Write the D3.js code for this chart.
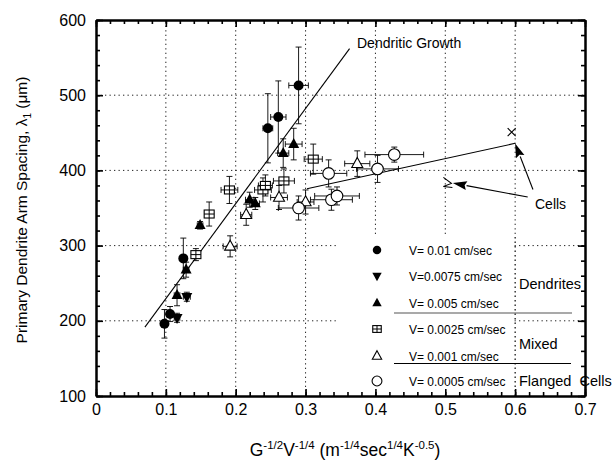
<!DOCTYPE html>
<html><head><meta charset="utf-8">
<script src="https://cdn.jsdelivr.net/npm/d3@7"></script>
<style>
body{margin:0;background:#fff;}
svg{display:block;font-family:"Liberation Sans",Arial,sans-serif;}
</style></head>
<body>
<svg id="c" width="613" height="464"></svg>
<script>
// ---- data ----
const X_TICKS = [0,0.1,0.2,0.3,0.4,0.5,0.6,0.7];
const Y_TICKS = [100,200,300,400,500,600];
const X_GRID = [0.1,0.2,0.3,0.4,0.5,0.6];
const Y_GRID = [200,300,400,500];

const seriesNames = ["V= 0.01 cm/sec","V=0.0075 cm/sec","V= 0.005 cm/sec","V= 0.0025 cm/sec","V= 0.001 cm/sec","V= 0.0005 cm/sec"];
const seriesMarks = ["circleFilled","triDownFilled","triUpFilled","squareCross","triUpOpen","circleOpen"];

const v010_x  = [0.098,0.106,0.125,0.246,0.261,0.290];
const v010_y  = [196,209,283,456,471,513];
const v010_ye = [19,10,27,46,48,51];
const v010_xe = [0.004,0.003,0.004,0.007,0.011,0.014];

const v0075_x  = [0.116,0.130];
const v0075_y  = [204,232];
const v0075_ye = [6,6];
const v0075_xe = [0.004,0.005];

const v005_x  = [0.116,0.129,0.149,0.220,0.228,0.268,0.283];
const v005_y  = [234,268,327,361,356,423,435];
const v005_ye = [14,10,5,10,8,19,21];
const v005_xe = [0.004,0.004,0.004,0.006,0.006,0.008,0.012];

const v0025_x  = [0.143,0.162,0.191,0.239,0.2425,0.269,0.311];
const v0025_y  = [288,342,374,374,380,386,415];
const v0025_ye = [8,16,18,16,14,16,20];
const v0025_xe = [0.004,0.006,0.012,0.012,0.01,0.015,0.013];

const v001_x  = [0.192,0.215,0.262,0.300,0.374];
const v001_y  = [299,341,364,358,409];
const v001_ye = [14,14,16,16,17];
const v001_xe = [0.01,0.008,0.012,0.012,0.018];

const v0005_x  = [0.290,0.333,0.337,0.345,0.403,0.427];
const v0005_y  = [350,396,361,366,402,421];
const v0005_ye = [16,18,14,12,18,10];
const v0005_xe = [0.029,0.026,0.03,0.032,0.03,0.042];

const dendriticLine_x = [0.070,0.363];
const dendriticLine_y = [191.5,562];
const cellsLine_x = [0.302,0.600];
const cellsLine_y = [375.5,436];
const crossMark = [0.595,451];
const zigMark = [0.503,384];
const arrow1 = [[0.618,364.6],[0.5108,383.2]];
const arrow2 = [[0.6255,374.6],[0.600,435.8]];

const groupLabels = ["Dendrites","Mixed","Flanged  Cells"];

// ---- scales ----
const svg = d3.select("#c");
const x = d3.scaleLinear().domain([0,0.7]).range([96,585]);
const y = d3.scaleLinear().domain([100,600]).range([396,20]);

// grid
const grid = svg.append("g").attr("stroke","#222").attr("stroke-width",1).attr("stroke-dasharray","1.3,3.2");
X_GRID.forEach(v=>grid.append("line").attr("x1",x(v)).attr("x2",x(v)).attr("y1",y(100)).attr("y2",y(600)));
Y_GRID.forEach(v=>grid.append("line").attr("x1",x(0)).attr("x2",x(0.7)).attr("y1",y(v)).attr("y2",y(v)));

// legend background box (covers grid)
svg.append("rect").attr("x",338).attr("y",237).attr("width",x(0.6)-338-1).attr("height",y(100)-237-2).attr("fill","#fff");
svg.append("line").attr("x1",x(0.6)).attr("x2",x(0.6)).attr("y1",237).attr("y2",y(100))
  .attr("stroke","#222").attr("stroke-dasharray","1.3,3.2");

// axes
const minorX = d3.range(0,0.7001,0.02).map(v=>+v.toFixed(2));
const minorY = d3.range(100,601,20);
function axisGroup(axis, tx, ty){
  const g = svg.append("g").attr("transform",`translate(${tx},${ty})`).call(axis);
  g.select(".domain").attr("stroke","#000").attr("stroke-width",2);
  g.selectAll(".tick line").attr("stroke","#000").attr("stroke-width",1.6);
  g.selectAll("text").attr("fill","#000").attr("font-size",16);
  return g;
}
axisGroup(d3.axisBottom(x).tickValues(minorX).tickSize(-4).tickSizeOuter(0).tickFormat(""),0,y(100));
axisGroup(d3.axisBottom(x).tickValues(X_TICKS).tickSize(-7).tickSizeOuter(0).tickPadding(8).tickFormat(d=>d===0?"0":d3.format(".1f")(d)),0,y(100));
axisGroup(d3.axisTop(x).tickValues(minorX).tickSize(-4).tickSizeOuter(0).tickFormat(""),0,y(600));
axisGroup(d3.axisTop(x).tickValues(X_TICKS).tickSize(-7).tickSizeOuter(0).tickFormat(""),0,y(600));
axisGroup(d3.axisLeft(y).tickValues(minorY).tickSize(-4).tickSizeOuter(0).tickFormat(""),x(0),0);
axisGroup(d3.axisLeft(y).tickValues(Y_TICKS).tickSize(-7).tickSizeOuter(0).tickPadding(10).tickFormat(d3.format("d")),x(0),0);
axisGroup(d3.axisRight(y).tickValues(minorY).tickSize(-4).tickSizeOuter(0).tickFormat(""),x(0.7),0);
axisGroup(d3.axisRight(y).tickValues(Y_TICKS).tickSize(-7).tickSizeOuter(0).tickFormat(""),x(0.7),0);

// axis titles
svg.append("text").attr("transform",`translate(27,${(y(100)+y(600))/2+2}) rotate(-90)`)
  .attr("text-anchor","middle").attr("font-size",15.5)
  .html('Primary Dendrite Arm Spacing, λ<tspan font-size="10" dy="4">1</tspan><tspan dy="-4">  (μm)</tspan>');
const xt = svg.append("text").attr("x",345).attr("y",456).attr("text-anchor","middle").attr("font-size",17.5);
xt.html('G<tspan font-size="11.5" dy="-7">-1/2</tspan><tspan dy="7">V</tspan><tspan font-size="11.5" dy="-7">-1/4</tspan><tspan dy="7"> (m</tspan><tspan font-size="11.5" dy="-7">-1/4</tspan><tspan dy="7">sec</tspan><tspan font-size="11.5" dy="-7">1/4</tspan><tspan dy="7">K</tspan><tspan font-size="11.5" dy="-7">-0.5</tspan><tspan dy="7">)</tspan>');

// fit lines
const lineGen = d3.line().x(d=>x(d[0])).y(d=>y(d[1]));
svg.append("path").datum(d3.zip(dendriticLine_x,dendriticLine_y)).attr("d",lineGen).attr("stroke","#000").attr("stroke-width",1.1).attr("fill","none");
svg.append("path").datum(d3.zip(cellsLine_x,cellsLine_y)).attr("d",lineGen).attr("stroke","#000").attr("stroke-width",1.1).attr("fill","none");

// marker shapes
function drawMarker(g, type, cx, cy, s){
  const k = s/10;
  if(type==="circleFilled"){ g.append("circle").attr("cx",cx).attr("cy",cy).attr("r",5*k).attr("fill","#000"); }
  else if(type==="circleOpen"){ g.append("circle").attr("cx",cx).attr("cy",cy).attr("r",5.8*k).attr("fill","#fff").attr("stroke","#000").attr("stroke-width",1.1); }
  else if(type==="triUpFilled"||type==="triUpOpen"){
    const w=11*k,h=10*k;
    const p = `M${cx},${cy-h*0.62}L${cx+w/2},${cy+h*0.38}L${cx-w/2},${cy+h*0.38}Z`;
    if(type==="triUpFilled") g.append("path").attr("d",p).attr("fill","#000");
    else g.append("path").attr("d",p).attr("fill","#fff").attr("stroke","#000").attr("stroke-width",1.1);
  }
  else if(type==="triDownFilled"){
    const w=11*k,h=10*k;
    g.append("path").attr("d",`M${cx},${cy+h*0.62}L${cx+w/2},${cy-h*0.38}L${cx-w/2},${cy-h*0.38}Z`).attr("fill","#000");
  }
  else if(type==="squareCross"){
    const w=10*k,h=8*k;
    g.append("rect").attr("x",cx-w/2).attr("y",cy-h/2).attr("width",w).attr("height",h).attr("fill","#fff").attr("stroke","#000").attr("stroke-width",1.1);
    g.append("line").attr("x1",cx-w/2).attr("x2",cx+w/2).attr("y1",cy).attr("y2",cy).attr("stroke","#000").attr("stroke-width",1);
    g.append("line").attr("x1",cx).attr("x2",cx).attr("y1",cy-h/2).attr("y2",cy+h/2).attr("stroke","#000").attr("stroke-width",1);
  }
}

const allSeries = [
  [v010_x,v010_y,v010_ye,v010_xe],
  [v0075_x,v0075_y,v0075_ye,v0075_xe],
  [v005_x,v005_y,v005_ye,v005_xe],
  [v0025_x,v0025_y,v0025_ye,v0025_xe],
  [v001_x,v001_y,v001_ye,v001_xe],
  [v0005_x,v0005_y,v0005_ye,v0005_xe]
];

// error bars
const eb = svg.append("g").attr("stroke","#000").attr("stroke-width",0.9);
allSeries.forEach(([xs,ys,yes,xes])=>{
  xs.forEach((xv,i)=>{
    const cx=x(xv), cy=y(ys[i]);
    const y1=y(ys[i]+yes[i]), y2=y(ys[i]-yes[i]);
    eb.append("line").attr("x1",cx).attr("x2",cx).attr("y1",y1).attr("y2",y2);
    eb.append("line").attr("x1",cx-3).attr("x2",cx+3).attr("y1",y1).attr("y2",y1);
    eb.append("line").attr("x1",cx-3).attr("x2",cx+3).attr("y1",y2).attr("y2",y2);
    const x1=x(xv-xes[i]), x2=x(xv+xes[i]);
    eb.append("line").attr("x1",x1).attr("x2",x2).attr("y1",cy).attr("y2",cy);
    eb.append("line").attr("x1",x1).attr("x2",x1).attr("y1",cy-3).attr("y2",cy+3);
    eb.append("line").attr("x1",x2).attr("x2",x2).attr("y1",cy-3).attr("y2",cy+3);
  });
});
// markers
const mk = svg.append("g");
allSeries.forEach(([xs,ys],si)=>{
  xs.forEach((xv,i)=>drawMarker(mk,seriesMarks[si],x(xv),y(ys[i]),10));
});

// cell markers
const cm = svg.append("g").attr("stroke","#000").attr("stroke-width",1.1).attr("fill","none");
{
  const cx=x(crossMark[0]), cy=y(crossMark[1]);
  cm.append("path").attr("d",`M${cx-4},${cy-4}L${cx+4},${cy+4}M${cx+4},${cy-4}L${cx-4},${cy+4}`);
  const zx=x(zigMark[0]), zy=y(zigMark[1]);
  cm.append("path").attr("d",`M${zx-4},${zy-5}L${zx+4},${zy+1}L${zx-4},${zy+4}L${zx+5},${zy+5}`);
}
// arrows
function arrow(a){
  const x1=x(a[0][0]),y1=y(a[0][1]),x2=x(a[1][0]),y2=y(a[1][1]);
  const ang=Math.atan2(y2-y1,x2-x1), L=14, W=4.5;
  const bx=x2-L*Math.cos(ang), by=y2-L*Math.sin(ang);
  svg.append("line").attr("x1",x1).attr("y1",y1).attr("x2",bx).attr("y2",by).attr("stroke","#000").attr("stroke-width",1.1);
  const px=-Math.sin(ang)*W, py=Math.cos(ang)*W;
  svg.append("path").attr("d",`M${x2},${y2}L${bx+px},${by+py}L${bx+2*Math.cos(ang)},${by+2*Math.sin(ang)}L${bx-px},${by-py}Z`).attr("fill","#000");
}
arrow(arrow1); arrow(arrow2);

// annotation labels
svg.append("text").attr("x",357).attr("y",48).attr("font-size",14).text("Dendritic Growth");
svg.append("text").attr("x",535).attr("y",209).attr("font-size",14).text("Cells");

// legend
const lg = svg.append("g");
const rowY = [250,276,303,329,356,381];
seriesNames.forEach((n,i)=>{
  drawMarker(lg,seriesMarks[i],377,rowY[i],8.5);
  lg.append("text").attr("x",409).attr("y",rowY[i]+4.5).attr("font-size",12).text(n);
});
lg.append("line").attr("x1",394).attr("x2",572).attr("y1",313).attr("y2",313).attr("stroke","#555").attr("stroke-width",1.2);
lg.append("line").attr("x1",394).attr("x2",571).attr("y1",363.5).attr("y2",363.5).attr("stroke","#000").attr("stroke-width",1.2);
lg.append("text").attr("x",519).attr("y",289).attr("font-size",14.5).text(groupLabels[0]);
lg.append("text").attr("x",519).attr("y",349).attr("font-size",14.5).text(groupLabels[1]);
lg.append("text").attr("x",519).attr("y",386).attr("font-size",14.5).attr("xml:space","preserve").style("white-space","pre").text(groupLabels[2]);
</script>
</body></html>
